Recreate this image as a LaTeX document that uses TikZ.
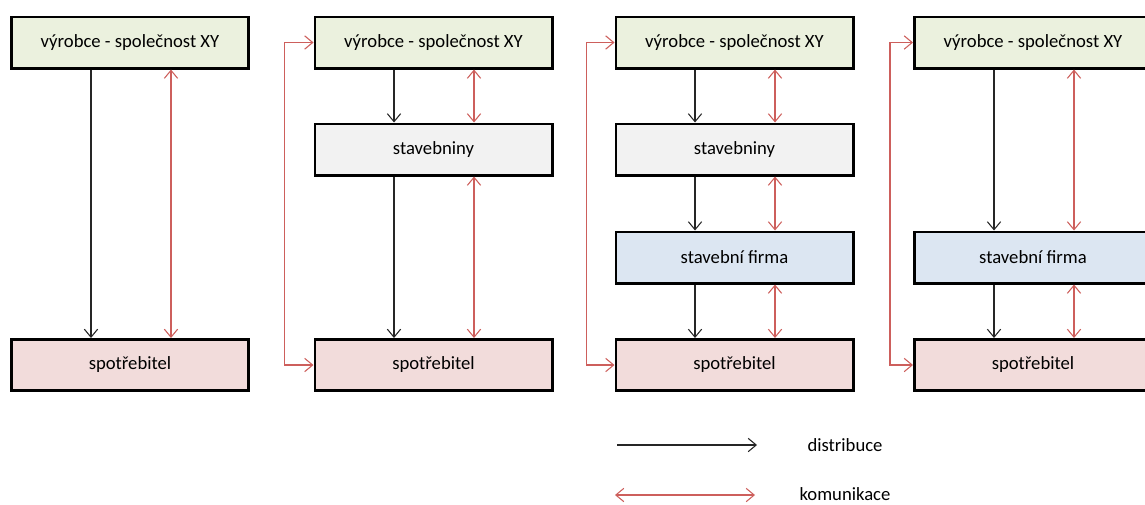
\documentclass[tikz,border=0pt]{standalone}
\usepackage{fontspec}
\setmainfont{Carlito}
\usetikzlibrary{arrows.meta}
\definecolor{gfill}{RGB}{235,241,222}
\definecolor{sfill}{RGB}{242,242,242}
\definecolor{bfill}{RGB}{220,230,242}
\definecolor{pfill}{RGB}{242,220,219}
\definecolor{commred}{RGB}{205,95,92}
\tikzset{
  box/.style={draw=black, line width=2pt, minimum width=178pt, minimum height=38.5pt, inner sep=0pt, font=\fontsize{14}{16}\selectfont},
  dist/.style={draw=black!85, line width=0.8pt, -{Straight Barb[length=6pt,width=10pt,line width=0.8pt]}},
  comm/.style={draw=commred, line width=0.8pt, {Straight Barb[length=6pt,width=10pt,line width=0.8pt]}-{Straight Barb[length=6pt,width=10pt,line width=0.8pt]}},
  lbl/.style={font=\fontsize{14}{16}\selectfont, inner sep=0pt}
}
\begin{document}
\begin{tikzpicture}[x=0.75pt, y=-0.75pt]
\useasboundingbox (0,0) rectangle (1145,504);
\begin{scope}
\clip (0,0) rectangle (1145,504);
% column 1
\node[box, fill=gfill] (t1) at (130,42.5) {výrobce - společnost XY};
\node[box, fill=pfill] (s1) at (130,365) {spotřebitel};
% column 2
\node[box, fill=gfill] (t2) at (433.5,42.5) {výrobce - společnost XY};
\node[box, fill=sfill] (m2) at (433.5,149.5) {stavebniny};
\node[box, fill=pfill] (s2) at (433.5,365) {spotřebitel};
% column 3
\node[box, fill=gfill] (t3) at (734.5,42.5) {výrobce - společnost XY};
\node[box, fill=sfill] (m3) at (734.5,149.5) {stavebniny};
\node[box, fill=bfill] (f3) at (734.5,257.5) {stavební firma};
\node[box, fill=pfill] (s3) at (734.5,365) {spotřebitel};
% column 4
\node[box, fill=gfill] (t4) at (1033,42.5) {výrobce - společnost XY};
\node[box, fill=bfill] (f4) at (1033,257.5) {stavební firma};
\node[box, fill=pfill] (s4) at (1033,365) {spotřebitel};
\end{scope}
% column 1 connectors
\draw[dist] (t1.south -| 91,0) -- (s1.north -| 91,0);
\draw[comm] (t1.south -| 171,0) -- (s1.north -| 171,0);
% column 2 connectors
\draw[dist] (t2.south -| 394,0) -- (m2.north -| 394,0);
\draw[comm] (t2.south -| 474,0) -- (m2.north -| 474,0);
\draw[dist] (m2.south -| 394,0) -- (s2.north -| 394,0);
\draw[comm] (m2.south -| 474,0) -- (s2.north -| 474,0);
\draw[comm] (t2.west) -- ++(-29,0) coordinate (k2) |- (s2.west);
% column 3 connectors
\draw[dist] (t3.south -| 695,0) -- (m3.north -| 695,0);
\draw[comm] (t3.south -| 775,0) -- (m3.north -| 775,0);
\draw[dist] (m3.south -| 695,0) -- (f3.north -| 695,0);
\draw[comm] (m3.south -| 775,0) -- (f3.north -| 775,0);
\draw[dist] (f3.south -| 695,0) -- (s3.north -| 695,0);
\draw[comm] (f3.south -| 775,0) -- (s3.north -| 775,0);
\draw[comm] (t3.west) -- ++(-28,0) coordinate (k3) |- (s3.west);
% column 4 connectors
\draw[dist] (t4.south -| 994,0) -- (f4.north -| 994,0);
\draw[comm] (t4.south -| 1074,0) -- (f4.north -| 1074,0);
\draw[dist] (f4.south -| 994,0) -- (s4.north -| 994,0);
\draw[comm] (f4.south -| 1074,0) -- (s4.north -| 1074,0);
\draw[comm] (t4.west) -- ++(-23,0) coordinate (k4) |- (s4.west);
% legend
\coordinate (la1) at (617,445);
\coordinate (la2) at (757,445);
\coordinate (lb1) at (615,495);
\coordinate (lb2) at (755,495);
\draw[dist] (la1) -- (la2);
\draw[comm] (lb1) -- (lb2);
\node[lbl] (ld) at (845,445) {distribuce};
\node[lbl] (lk) at (845,494) {komunikace};
\end{tikzpicture}
\end{document}
